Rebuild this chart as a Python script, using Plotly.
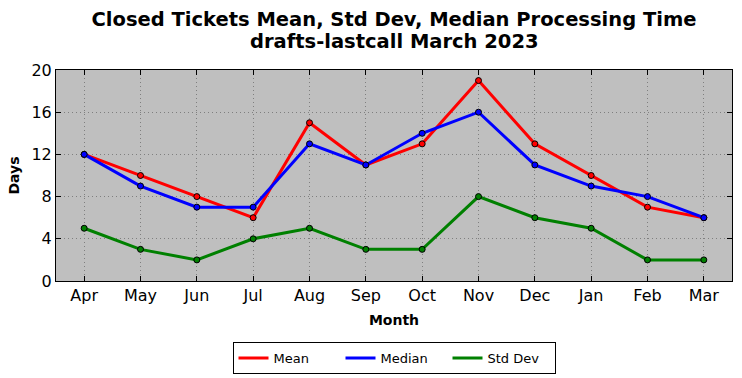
import plotly.graph_objects as go

months = ["Apr", "May", "Jun", "Jul", "Aug", "Sep", "Oct", "Nov", "Dec", "Jan", "Feb", "Mar"]
mean_vals = [12, 10, 8, 6, 15, 11, 13, 19, 13, 10, 7, 6]
median_vals = [12, 9, 7, 7, 13, 11, 14, 16, 11, 9, 8, 6]
std_vals = [5, 3, 2, 4, 5, 3, 3, 8, 6, 5, 2, 2]
title_lines = ["Closed Tickets Mean, Std Dev, Median Processing Time", "drafts-lastcall March 2023"]

series = [("Mean", mean_vals, "#ff0000"), ("Median", median_vals, "#0000ff"), ("Std Dev", std_vals, "#008000")]

fig = go.Figure()
for name, vals, col in series:
    fig.add_trace(go.Scatter(
        x=months, y=vals, name=name, mode="lines+markers", showlegend=False,
        line=dict(color=col, width=3),
        marker=dict(color=col, size=6, line=dict(color="black", width=1)),
    ))
for name, vals, col in series:
    fig.add_trace(go.Scatter(
        x=[None], y=[None], name=name, mode="lines", showlegend=True,
        line=dict(color=col, width=3),
    ))

font = "DejaVu Sans"
grid = dict(showgrid=True, gridcolor="#7f7f7f", griddash="1px,3px", gridwidth=1)
fig.update_layout(
    width=742, height=378,
    margin=dict(l=56, r=10, t=70, b=97, autoexpand=False),
    paper_bgcolor="white", plot_bgcolor="#bfbfbf",
    font=dict(family=font, color="black"),
    title=dict(text="<b>" + title_lines[0] + "</b>",
               x=0.5, xanchor="center", xref="paper", yref="container", y=1 - 19 / 378, yanchor="middle",
               font=dict(size=19.5)),
    showlegend=True,
    legend=dict(orientation="h", x=0.5, xanchor="center", yref="container", y=1 - 342 / 378, yanchor="top",
                bordercolor="black", borderwidth=1, font=dict(size=13), bgcolor="white",
                entrywidth=62, entrywidthmode="pixels", traceorder="normal"),
    xaxis=dict(type="category", range=[-0.5, 11.5], showline=True, linecolor="black", linewidth=1,
               mirror="ticks", ticks="inside", ticklen=5, tickcolor="black", automargin=False,
               tickfont=dict(size=16), title=dict(text="<b>Month</b>", font=dict(size=14), standoff=10),
               zeroline=False, **grid),
    yaxis=dict(range=[0, 20], tickvals=[0, 4, 8, 12, 16, 20], showline=True, linecolor="black", linewidth=1,
               mirror="ticks", ticks="inside", ticklen=5, tickcolor="black", automargin=False,
               tickfont=dict(size=16), title=dict(text="<b>Days</b>", font=dict(size=14), standoff=8),
               zeroline=False, **grid),
)
fig.add_annotation(text="<b>" + title_lines[1] + "</b>", xref="paper", yref="paper", x=0.5,
                   y=1 + (70 - 41) / 211, xanchor="center", yanchor="middle", showarrow=False,
                   font=dict(size=19.5))
fig.write_html("out.html", config={"displayModeBar": False},
               post_script="document.body.style.margin='0';document.body.style.overflow='hidden';")
